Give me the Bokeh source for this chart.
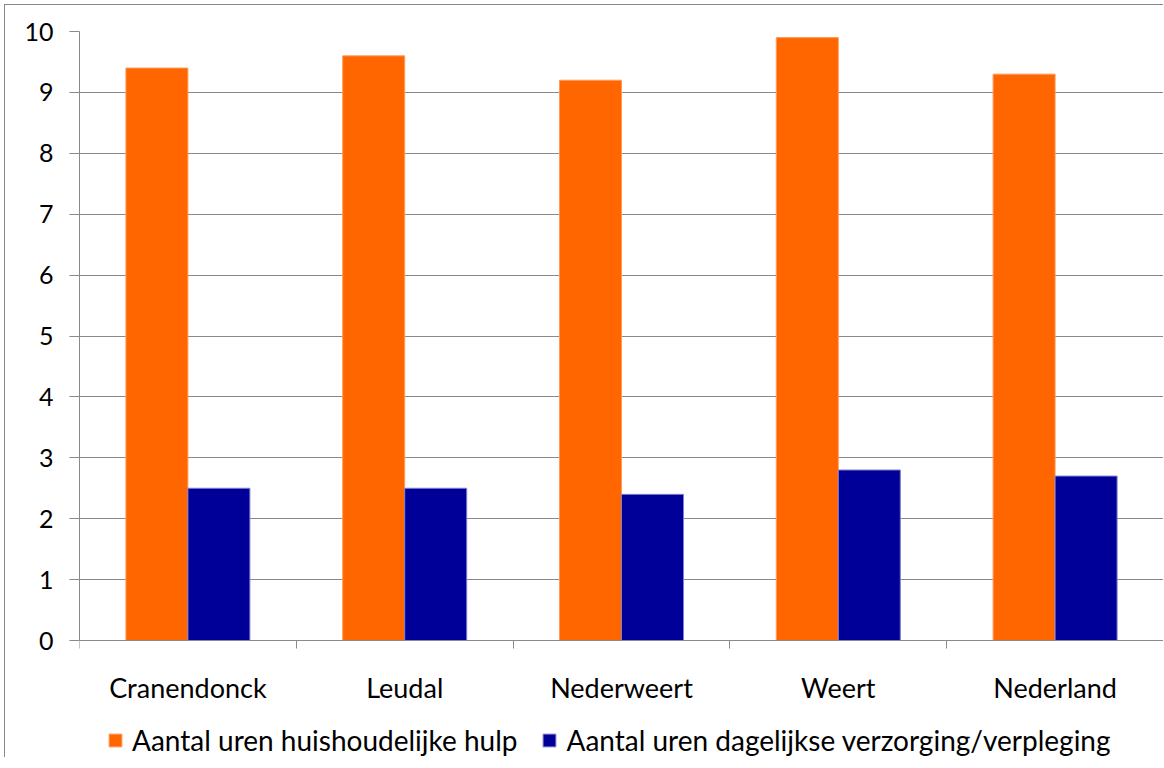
from bokeh.plotting import figure
from bokeh.models import ColumnDataSource, FixedTicker, Legend, LegendItem, Range1d
from bokeh.core.properties import value
from bokeh.transform import dodge
from bokeh.embed import file_html
from bokeh.resources import INLINE

categories = ["Cranendonck", "Leudal", "Nederweert", "Weert", "Nederland"]
huishoudelijke_hulp = [9.4, 9.6, 9.2, 9.9, 9.3]
verzorging_verpleging = [2.5, 2.5, 2.4, 2.8, 2.7]
series_names = ["Aantal uren huishoudelijke hulp",
                "Aantal uren dagelijkse verzorging/verpleging"]
y_ticks = list(range(0, 11))

FONT = "Lato"
GRID = "#898989"
ORANGE = "#FF6600"
BLUE = "#000099"

centers = [i + 0.5 for i in range(len(categories))]
boundaries = list(range(len(categories) + 1))
zeros = [0] * len(categories)

src = ColumnDataSource(dict(x=centers, hh=huishoudelijke_hulp, vz=verzorging_verpleging,
                            cat=categories, base=zeros))

# frame extends below the value axis to hold the category labels and the legend
p = figure(frame_width=1084, frame_height=726, output_backend="svg", toolbar_location=None,
           x_range=Range1d(0, len(categories)), y_range=Range1d(-1.921, 10),
           min_border_left=74, min_border_top=26, min_border_right=0,
           min_border_bottom=0, margin=(4, 0, 0, 4))
p.styles = {"border-left": "1px solid #8a8a8a", "border-top": "1px solid #8a8a8a"}
p.outline_line_color = None

r1 = p.vbar(x=dodge("x", -0.143), top="hh", width=0.286, source=src,
            fill_color=ORANGE, line_color="#FF9A5C", line_width=1)
r2 = p.vbar(x=dodge("x", 0.143), top="vz", width=0.286, source=src,
            fill_color=BLUE, line_color="#8080CC", line_width=1)

# category labels under the baseline
p.text(x="x", y="base", text="cat", source=src, y_offset=47,
       text_align="center", text_baseline="middle",
       text_font=value(FONT), text_font_size="27px", text_color="#000000")

# y axis
ya = p.yaxis[0]
ya.ticker = FixedTicker(ticks=y_ticks)
ya.bounds = (0, 10)
ya.axis_line_color = GRID
ya.major_tick_line_color = GRID
ya.major_tick_out = 10
ya.major_tick_in = 0
ya.minor_tick_line_color = None
ya.major_label_standoff = 16
ya.major_label_text_font = FONT
ya.major_label_text_font_size = "25px"
ya.major_label_text_color = "#000000"

# x axis at value 0, ticks at category boundaries
xa = p.xaxis[0]
xa.fixed_location = 0
xa.ticker = FixedTicker(ticks=[], minor_ticks=boundaries)
xa.axis_line_color = GRID
xa.major_tick_line_color = None
xa.minor_tick_line_color = GRID
xa.minor_tick_out = 8
xa.minor_tick_in = 0
xa.major_label_standoff = 0
xa.major_label_text_font_size = "0px"

p.xgrid.grid_line_color = None
p.ygrid.grid_line_color = GRID
p.ygrid.ticker = FixedTicker(ticks=y_ticks)

legend = Legend(items=[LegendItem(label=series_names[0], renderers=[r1]),
                       LegendItem(label=series_names[1], renderers=[r2])],
                orientation="horizontal", location=(28, 0),
                border_line_color=None, background_fill_alpha=0,
                label_text_font=FONT, label_text_font_size="28px",
                label_text_color="#000000",
                glyph_width=16, glyph_height=16, label_standoff=9, spacing=24,
                margin=0, padding=0)
p.add_layout(legend, "center")

open("out.html", "w").write(file_html(p, INLINE))
